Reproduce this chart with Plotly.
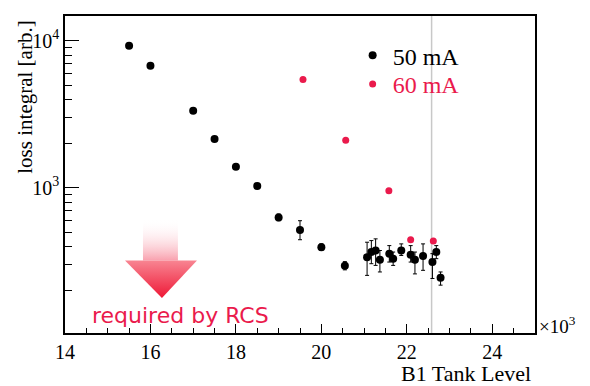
import plotly.graph_objects as go

# ---- data (x in units of 10^3) ----
x_50 = [15.5, 16.0, 17.0, 17.5, 18.0, 18.5, 19.0, 19.5, 20.0, 20.55,
        21.07, 21.17, 21.27, 21.37, 21.59, 21.68, 21.87, 22.09, 22.19, 22.38, 22.60, 22.69, 22.79]
y_50 = [9250, 6780, 3350, 2150, 1390, 1030, 630, 518, 395, 295,
        338, 366, 375, 324, 357, 330, 375, 351, 324, 344, 313, 366, 245]
err_up_50 = [0, 0, 0, 0, 0, 0, 35, 80, 22, 20,
             89, 72, 75, 51, 48, 36, 41, 54, 42, 72, 44, 39, 23]
err_dn_50 = [0, 0, 0, 0, 0, 0, 32, 74, 20, 18,
             84, 61, 78, 56, 44, 33, 28, 38, 64, 69, 71, 36, 27]

x_60 = [19.57, 20.57, 21.58, 22.09, 22.62]
y_60 = [5450, 2110, 955, 443, 435]

x_ticks = [14, 16, 18, 20, 22, 24]
y_major = [1000, 10000]
y_major_text = ["10<sup>3</sup>", "10<sup>4</sup>"]
y_minor = [200, 300, 400, 500, 600, 700, 800, 900,
           2000, 3000, 4000, 5000, 6000, 7000, 8000, 9000]

ref_line_x = 22.58

RED = "#ea1a4c"
SERIF = "Liberation Serif"

fig = go.Figure()

# ---- decorative arrow "required by RCS" ----
shaft_x = [15.825, 16.643, 16.643, 15.825, 15.825]
shaft_y = [616, 616, 321, 321, 616]
head_x = [15.404, 17.088, 16.269, 15.404]
head_y = [321, 321, 178, 321]

fig.add_trace(go.Scatter(
    x=shaft_x, y=shaft_y, mode="none", fill="toself",
    fillgradient=dict(type="vertical",
                      colorscale=[[0, "rgba(248,150,165,0.9)"], [1, "rgba(255,255,255,0)"]]),
    showlegend=False, hoverinfo="skip"))
fig.add_trace(go.Scatter(
    x=head_x, y=head_y, mode="none", fill="toself",
    fillgradient=dict(type="vertical",
                      colorscale=[[0, "#ee1836"], [1, "#f88592"]]),
    showlegend=False, hoverinfo="skip"))

# ---- data series ----
fig.add_trace(go.Scatter(
    x=x_50, y=y_50, mode="markers", name="50 mA", legend="legend",
    marker=dict(color="black", size=8),
    error_y=dict(type="data", symmetric=False, array=err_up_50, arrayminus=err_dn_50,
                 color="black", thickness=1, width=2)))
fig.add_trace(go.Scatter(
    x=x_60, y=y_60, mode="markers", name="<span style='color:%s'>60 mA</span>" % RED,
    legend="legend2",
    marker=dict(color=RED, size=7)))

# grey reference line
fig.add_shape(type="line", xref="x", yref="paper", x0=ref_line_x, x1=ref_line_x,
              y0=0, y1=1, line=dict(color="#c8c8c8", width=1.5), layer="below")

legend_common = dict(xanchor="left", yanchor="top",
                     font=dict(family=SERIF, size=24, color="black"),
                     bgcolor="rgba(0,0,0,0)")

# page body has an 8px margin -> figure is 8px smaller and margins shifted
fig.update_layout(
    width=582, height=378,
    margin=dict(l=57, r=55, t=6, b=53),
    paper_bgcolor="white", plot_bgcolor="white",
    font=dict(family=SERIF, size=20, color="black"),
    showlegend=True,
    legend=dict(x=0.612, y=0.946, **legend_common),
    legend2=dict(x=0.612, y=0.855, **legend_common),
    xaxis=dict(range=[14, 25], tickmode="array", tickvals=x_ticks,
               ticks="inside", ticklen=9, tickwidth=1, tickcolor="black",
               showgrid=False, zeroline=False,
               showline=True, linecolor="black", linewidth=1.5, mirror=True,
               tickfont=dict(family=SERIF, size=20),
               minor=dict(dtick=0.5, ticks="inside", ticklen=5, tickcolor="black", showgrid=False)),
    yaxis=dict(type="log", range=[2.013, 4.169], tickmode="array",
               tickvals=y_major, ticktext=y_major_text,
               ticks="inside", ticklen=14, tickwidth=1, tickcolor="black",
               showgrid=False, zeroline=False,
               showline=True, linecolor="black", linewidth=1.5, mirror=True,
               tickfont=dict(family=SERIF, size=20),
               minor=dict(tickmode="array", tickvals=y_minor, ticks="inside",
                          ticklen=7, tickcolor="black", showgrid=False)),
    annotations=[
        dict(text="required by RCS", xref="paper", yref="paper", x=0.053, y=0.056,
             xanchor="left", yanchor="middle", showarrow=False,
             font=dict(family="DejaVu Sans", size=22, color=RED)),
        dict(text="B1 Tank Level", xref="paper", yref="paper", x=0.996, y=-0.128,
             xanchor="right", yanchor="middle", showarrow=False,
             font=dict(family=SERIF, size=22)),
        dict(text="×10<sup>3</sup>", xref="paper", yref="paper", x=1.004, y=0.025,
             xanchor="left", yanchor="middle", showarrow=False,
             font=dict(family=SERIF, size=19)),
        dict(text="loss integral [arb.]", xref="paper", yref="paper", x=-0.085, y=0.99,
             xanchor="center", yanchor="top", textangle=-90, showarrow=False,
             font=dict(family=SERIF, size=21)),
    ],
)

fig.write_html("out.html")
